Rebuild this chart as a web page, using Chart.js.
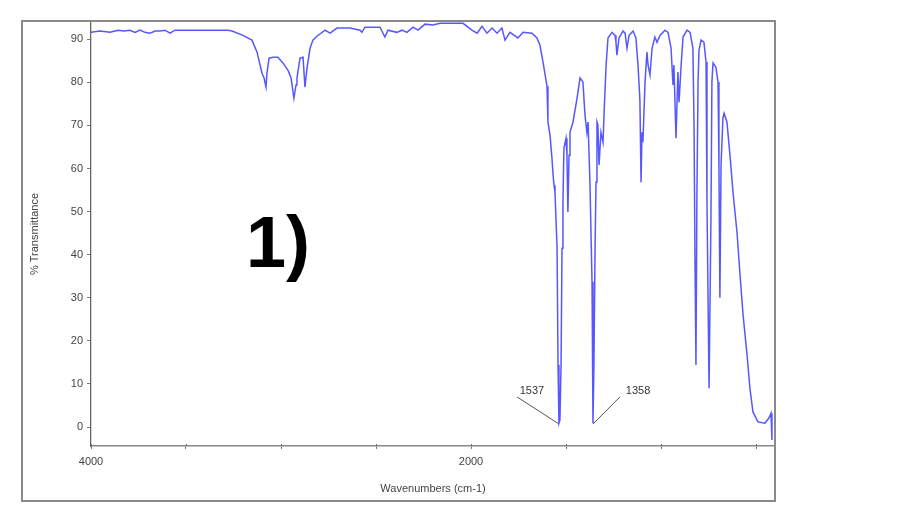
<!DOCTYPE html>
<html><head><meta charset="utf-8">
<script src="https://cdn.jsdelivr.net/npm/chart.js@4.4.1/dist/chart.umd.min.js"></script>
<style>html,body{margin:0;padding:0;background:#fff;}#wrap{width:920px;height:532px;position:relative;}</style>
</head><body><div id="wrap"><canvas id="c" width="920" height="532"></canvas></div>
<script>
const wavenumbers = [4000,3953,3900,3858,3826,3795,3768,3742,3716,3689,3663,3637,3611,3584,3558,3505,3426,3347,3279,3258,
3200,3153,3126,3100,3089,3079,3074,3063,3042,3016,2990,2963,2947,2942,2932,2921,2916,2900,2884,2874,2863,2847,2832,2811,
2768,2742,2705,2637,2584,2574,2558,2479,2453,2437,2390,2363,2337,2305,2279,2242,2200,2163,2074,2042,1995,1968,1942,1916,
1889,1863,1837,1821,1795,1753,1726,1679,1653,1637,1621,1600,1595,1584,1574,1568,1563,1558,1547,1542,1537,1532,1526,1521,
1516,1511,1500,1495,1490,1484,1479,1463,1442,1426,1411,1400,1390,1384,1374,1363,1358,1353,1347,1342,1337,1332,1326,1316,
1305,1300,1289,1279,1258,1242,1237,1232,1221,1200,1189,1179,1168,1147,1132,1121,1111,1105,1100,1095,1084,1074,1068,1058,
1047,1032,1021,1005,979,963,947,937,932,921,911,905,895,884,863,847,832,826,821,816,811,805,800,789,774,763,758,747,737,
732,726,711,700,695,690,684,674,668,653,637,621,600,584,568,547,532,516,490,453,432,421,416];
const transmittance = [91.6,91.9,91.6,92.1,91.9,92.1,91.6,92.1,91.6,91.4,91.9,91.9,92.1,91.4,92.1,92.1,92.1,92.1,92.1,91.9,
90.9,89.8,87.0,82.1,81.0,78.9,82.1,85.6,85.8,85.8,84.5,82.8,81.0,79.4,76.3,79.4,81.0,85.6,85.8,78.9,83.3,87.9,89.8,90.7,
92.1,91.4,92.6,92.6,92.1,91.6,92.8,92.8,90.5,92.1,91.6,92.1,91.6,92.8,92.1,93.5,93.3,93.7,93.7,93.7,92.1,91.4,93.0,91.4,
92.6,91.4,92.6,89.8,91.6,90.3,91.6,91.4,90.3,88.6,84.7,79.1,70.8,67.7,62.4,58.5,56.1,54.5,41.5,14.4,0.9,1.6,14.4,41.5,
52.2,64.7,67.0,63.1,49.9,63.1,68.4,70.8,76.3,81.0,80.1,72.4,68.4,70.8,56.8,33.7,0.9,14.4,41.5,56.8,70.8,70.1,60.8,68.4,
66.1,72.4,84.0,90.3,91.6,90.9,89.3,86.3,90.3,91.9,91.4,87.9,90.9,91.9,90.3,84.0,75.9,56.8,68.4,66.1,80.1,87.0,84.0,81.7,
87.9,90.5,89.3,90.9,92.1,91.6,87.9,79.4,84.0,67.0,82.4,75.4,83.3,90.5,92.1,91.6,87.9,69.4,38.3,14.4,53.8,80.1,87.5,89.8,89.3,84.7,52.2,9.0,49.2,
80.1,84.5,83.5,80.1,60.8,30.0,60.8,71.7,72.8,70.8,63.1,54.5,45.2,35.3,26.0,16.7,9.0,3.5,1.2,0.9,2.1,3.2,-3.0];
const yTicks = [0,10,20,30,40,50,60,70,80,90];
const xTicks = [4000,3500,3000,2500,2000,1500,1000,500];
const xTickLabels = ['4000','2000'];
const peakLabels = ['1537','1358'];
const peakWn = [1537,1358];
const peakT = [0.7,0.7];
const leaderWn = [1758,1216];
const leaderT = [7.0,7.0];
const labelWn = [1679,1121];
const labelT = [8.4,8.4];
const panelLabel = '1)';

const FONT = 'Liberation Sans, Arial, sans-serif';

const decor = {
  id: 'decor',
  afterDatasetsDraw(chart) {
    const {ctx, scales:{x, y}} = chart;
    ctx.save();
    ctx.strokeStyle = '#555';
    ctx.lineWidth = 1;
    ctx.fillStyle = '#333';
    ctx.font = '11px ' + FONT;
    ctx.textAlign = 'center';
    ctx.textBaseline = 'middle';
    for (let i = 0; i < peakLabels.length; i++) {
      ctx.beginPath();
      ctx.moveTo(x.getPixelForValue(leaderWn[i]), y.getPixelForValue(leaderT[i]));
      ctx.lineTo(x.getPixelForValue(peakWn[i]), y.getPixelForValue(peakT[i]));
      ctx.stroke();
      ctx.fillText(peakLabels[i], x.getPixelForValue(labelWn[i]), y.getPixelForValue(labelT[i]));
    }
    // small tick marks crossing the x axis line
    ctx.strokeStyle = '#666';
    const yb = chart.chartArea.bottom;
    xTicks.forEach(v => {
      const px = Math.round(x.getPixelForValue(v)) + 0.5;
      ctx.beginPath();
      ctx.moveTo(px, yb - 2);
      ctx.lineTo(px, yb);
      ctx.stroke();
    });
    ctx.restore();
  },
  afterDraw(chart) {
    const ctx = chart.ctx;
    ctx.save();
    ctx.strokeStyle = '#8a8a8a';
    ctx.lineWidth = 2;
    ctx.strokeRect(22, 21, 753, 480);
    ctx.fillStyle = '#000';
    ctx.font = 'bold 72px ' + FONT;
    ctx.textAlign = 'left';
    ctx.textBaseline = 'alphabetic';
    ctx.fillText(panelLabel, 246, 267);
    ctx.restore();
  }
};

new Chart(document.getElementById('c'), {
  type: 'scatter',
  data: {
    datasets: [{
      data: wavenumbers.map((w, i) => ({x: w, y: transmittance[i]})),
      showLine: true,
      borderColor: 'rgba(45,45,255,0.8)',
      borderWidth: 1.5,
      pointRadius: 0,
      tension: 0,
      fill: false
    }]
  },
  options: {
    responsive: false,
    animation: false,
    devicePixelRatio: 1,
    layout: {padding: {left: 0, right: 145, top: 22, bottom: 36}},
    plugins: {legend: {display: false}, tooltip: {enabled: false}},
    scales: {
      x: {
        type: 'linear', reverse: true, min: 400, max: 4000,
        afterBuildTicks: s => { s.ticks = xTicks.map(v => ({value: v})); },
        afterFit: s => { s.height = 50; },
        ticks: {autoSkip: false, maxRotation: 0, padding: 6, color: '#444',
          font: {family: FONT, size: 11},
          callback: v => xTickLabels.includes(String(v)) ? String(v) : ''},
        grid: {display: true, drawOnChartArea: false, tickLength: 3, color: '#777'},
        border: {display: true, color: '#888', width: 1.5},
        title: {display: true, text: 'Wavenumbers (cm-1)', color: '#444',
          font: {family: FONT, size: 11}, padding: {top: 0, bottom: 0}}
      },
      y: {
        min: -4.4, max: 94,
        afterBuildTicks: s => { s.ticks = yTicks.map(v => ({value: v})); },
        afterFit: s => { s.width = 91; },
        ticks: {padding: 4, color: '#444', font: {family: FONT, size: 11}, callback: v => String(v)},
        grid: {display: true, drawOnChartArea: false, tickLength: 4, color: '#777'},
        border: {display: true, color: '#666', width: 1.3, dash: [1.4, 2.9]},
        title: {display: true, text: '% Transmittance', color: '#444',
          font: {family: FONT, size: 11}, padding: {top: 28, bottom: 0}}
      }
    }
  },
  plugins: [decor]
});
</script></body></html>
